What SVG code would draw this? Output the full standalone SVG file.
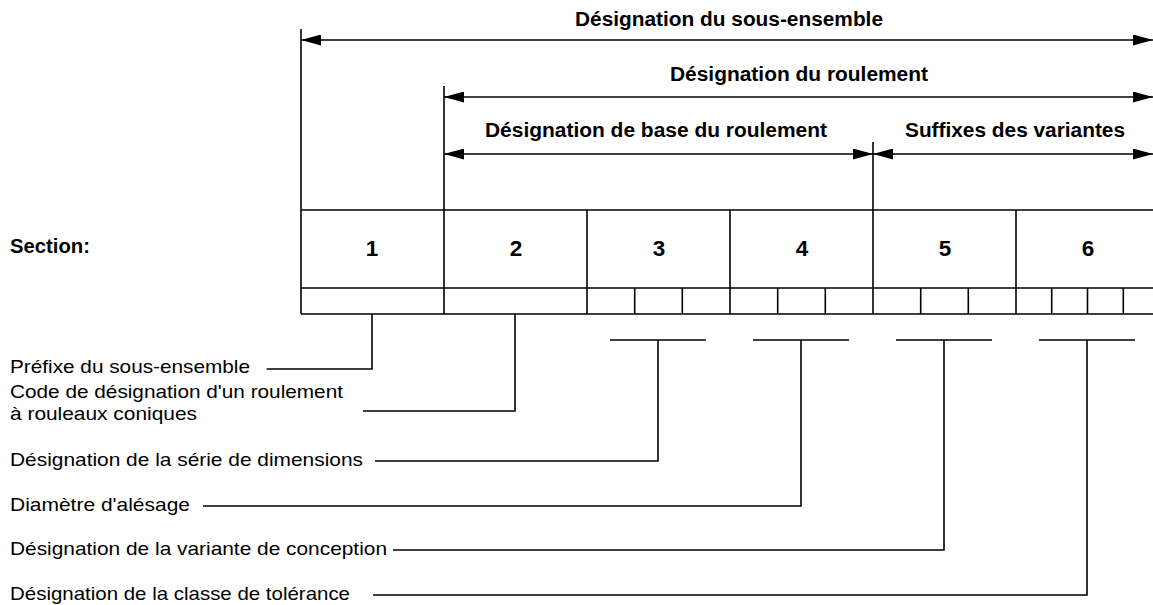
<svg xmlns="http://www.w3.org/2000/svg" width="1153" height="605" viewBox="0 0 1153 605">
<style>
.ln{stroke:#000;stroke-width:1.6;fill:none}
.t{font-family:"Liberation Sans",Arial,sans-serif;font-size:19px;fill:#000}
.b{font-family:"Liberation Sans",Arial,sans-serif;font-size:20px;font-weight:bold;fill:#000}
.n{font-family:"Liberation Sans",Arial,sans-serif;font-size:22.5px;font-weight:bold;fill:#000;text-anchor:middle}
</style>
<defs>
<marker id="ah" viewBox="0 0 20 11" refX="20" refY="5.5" markerWidth="20" markerHeight="11" markerUnits="userSpaceOnUse" orient="auto-start-reverse">
<path d="M0,0 L20,5.5 L0,11 z" fill="#000"/>
</marker>
</defs>
<rect width="1153" height="605" fill="#fff"/>
<g id="dimensions">
<text class="b" x="575" y="26" textLength="308" lengthAdjust="spacingAndGlyphs">Désignation du sous-ensemble</text>
<text class="b" x="670" y="81" textLength="258" lengthAdjust="spacingAndGlyphs">Désignation du roulement</text>
<text class="b" x="485" y="137" textLength="342" lengthAdjust="spacingAndGlyphs">Désignation de base du roulement</text>
<text class="b" x="905" y="137" textLength="220" lengthAdjust="spacingAndGlyphs">Suffixes des variantes</text>
</g>
<g id="table">
<line class="ln" x1="301" y1="210" x2="1153" y2="210"/>
<line class="ln" x1="301" y1="288" x2="1153" y2="288"/>
<line class="ln" x1="301" y1="314" x2="1153" y2="314"/>
<line class="ln" x1="301" y1="29" x2="301" y2="314"/>
<line class="ln" x1="444" y1="86" x2="444" y2="314"/>
<line class="ln" x1="587" y1="210" x2="587" y2="314"/>
<line class="ln" x1="730" y1="210" x2="730" y2="314"/>
<line class="ln" x1="873" y1="142" x2="873" y2="314"/>
<line class="ln" x1="1016" y1="210" x2="1016" y2="314"/>
<path class="ln" d="M634.7,288V314M682.3,288V314M777.7,288V314M825.3,288V314M920.7,288V314M968.3,288V314M1051.7,288V314M1087.5,288V314M1123.3,288V314"/>
<text class="b" x="10" y="253" textLength="80" lengthAdjust="spacingAndGlyphs">Section:</text>
<text class="n" x="372" y="256">1</text>
<text class="n" x="516" y="256">2</text>
<text class="n" x="659" y="256">3</text>
<text class="n" x="802" y="256">4</text>
<text class="n" x="945" y="256">5</text>
<text class="n" x="1088" y="256">6</text>
</g>
<g id="labels">
<text class="t" x="10" y="373" textLength="240" lengthAdjust="spacingAndGlyphs">Préfixe du sous-ensemble</text>
<text class="t" x="10" y="398" textLength="333" lengthAdjust="spacingAndGlyphs">Code de désignation d'un roulement</text>
<text class="t" x="10" y="420" textLength="187" lengthAdjust="spacingAndGlyphs">à rouleaux coniques</text>
<text class="t" x="10" y="466" textLength="353" lengthAdjust="spacingAndGlyphs">Désignation de la série de dimensions</text>
<text class="t" x="10" y="511" textLength="180" lengthAdjust="spacingAndGlyphs">Diamètre d'alésage</text>
<text class="t" x="10" y="555" textLength="377" lengthAdjust="spacingAndGlyphs">Désignation de la variante de conception</text>
<text class="t" x="10" y="600" textLength="340" lengthAdjust="spacingAndGlyphs">Désignation de la classe de tolérance</text>
</g>
<g id="connectors">
<line class="ln" x1="301" y1="40" x2="1153" y2="40" marker-start="url(#ah)" marker-end="url(#ah)"/>
<line class="ln" x1="444" y1="97" x2="1153" y2="97" marker-start="url(#ah)" marker-end="url(#ah)"/>
<line class="ln" x1="444" y1="154" x2="873" y2="154" marker-start="url(#ah)" marker-end="url(#ah)"/>
<line class="ln" x1="873" y1="154" x2="1153" y2="154" marker-start="url(#ah)" marker-end="url(#ah)"/>
<polyline class="ln" points="266.7,369 372,369 372,314"/>
<polyline class="ln" points="363,411 515,411 515,314"/>
<polyline class="ln" points="375,461 658,461 658,340"/>
<polyline class="ln" points="203,506 801,506 801,340"/>
<polyline class="ln" points="393,550 944,550 944,340"/>
<polyline class="ln" points="373,595 1087,595 1087,340"/>
<path class="ln" d="M610,340H706M753,340H849M896,340H992M1039,340H1135"/>
</g>
</svg>
